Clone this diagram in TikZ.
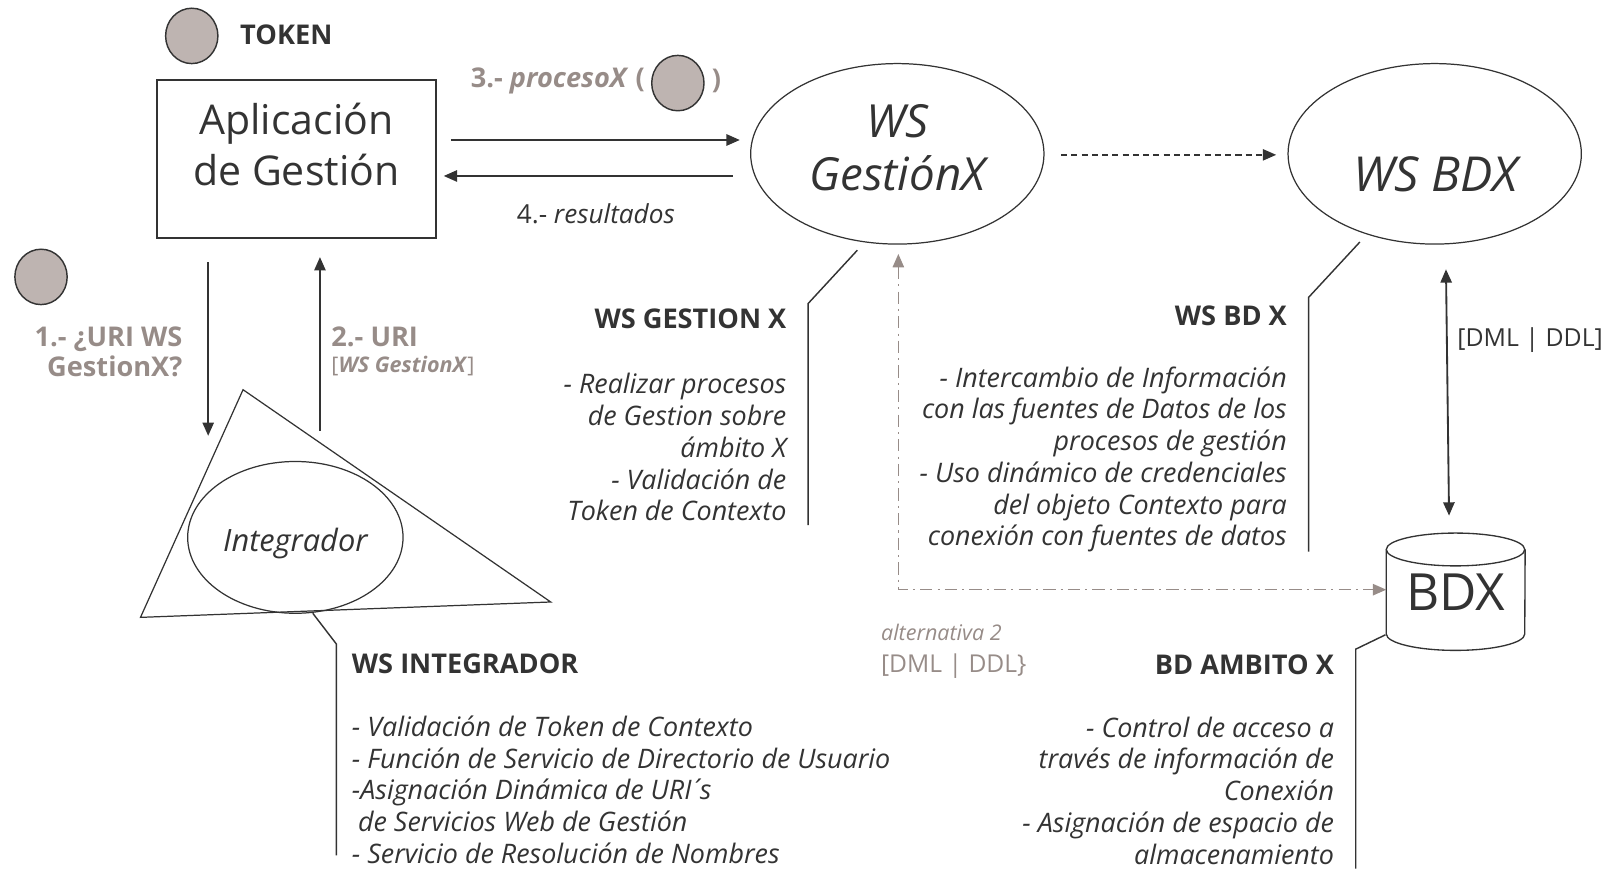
\documentclass[tikz,border=0pt]{standalone}
\usepackage{fontspec}
\setmainfont{Open Sans}
\usetikzlibrary{arrows.meta,shapes.geometric}
\definecolor{dark}{HTML}{333333}
\definecolor{taupe}{HTML}{978C88}
\definecolor{tokfill}{HTML}{BEB4B1}
\begin{document}
\begin{tikzpicture}[x=1pt,y=-1pt,
  every node/.style={inner sep=0pt, text=dark},
  tokcirc/.style={ellipse, draw=dark, fill=tokfill, line width=1.4pt, minimum width=51pt, minimum height=54pt},
  wsell/.style={ellipse, draw=dark, line width=1.2pt, minimum width=286pt, minimum height=176pt},
  arr/.style={draw=dark, line width=1.8pt, -{Triangle[length=13pt,width=11pt]}},
  darr/.style={draw=dark, line width=1.8pt, {Triangle[length=13pt,width=11pt]}-{Triangle[length=13pt,width=11pt]}},
  dasharr/.style={draw=dark, line width=1.6pt, dash pattern=on 6pt off 4pt, -{Triangle[length=13pt,width=11pt]}},
  altarr/.style={draw=taupe, line width=1.4pt, dash pattern=on 12pt off 5pt on 2pt off 5pt, {Triangle[length=13pt,width=11pt]}-{Triangle[length=13pt,width=11pt]}},
  callout/.style={draw=dark, line width=1.4pt},
  heading/.style={font=\fontsize{26.5}{31}\bfseries\selectfont},
  listtxt/.style={font=\fontsize{26.2}{31}\itshape\selectfont},
  steplbl/.style={font=\fontsize{26.5}{30}\bfseries\selectfont, text=taupe}
]
\useasboundingbox (0,0) rectangle (1568,847);

% tokens
\node[tokcirc] (tok1) at (187,35) {};
\node[heading, anchor=west] (toklbl) at (234,34) {TOKEN};
\node[tokcirc] (tok2) at (40,270) {};

% application box
\node[draw=dark, line width=1.4pt, minimum width=272pt, minimum height=154pt] (app) at (289,155) {};
\node[align=center, font=\fontsize{40}{49}\selectfont] (apptxt) at (289,141) {Aplicación\\de Gestión};

% WS GestionX
\node[wsell] (gest) at (875,150) {};
\node[font=\fontsize{44.5}{52}\itshape\selectfont, align=center] (gesttxt) at (875,144) {WS\\GestiónX};

% WS BDX
\node[wsell] (wsbd) at (1399,150) {};
\node[font=\fontsize{47}{52}\itshape\selectfont] (wsbdtxt) at (1400,170) {WS BDX};

% arrows app <-> gest
\draw[arr] ([xshift=14pt,yshift=18.5pt]app.east) -- ([xshift=-10pt,yshift=13.5pt]gest.west);
\draw[arr] ([xshift=-17pt,yshift=-21.6pt]gest.west) -- ([xshift=7pt,yshift=-16.6pt]app.east);
\node[steplbl, anchor=west] (l3) at (459,79) {3.- \textit{procesoX} (};
\node[tokcirc] (tok3) at (661,81) {};
\node[steplbl, anchor=west] (l3b) at (694,79) {)};
\node[font=\fontsize{25.5}{30}\selectfont] (l4) at (581,208) {4.- \textit{resultados}};

% dashed arrow gest -> wsbd
\draw[dasharr] ([xshift=16pt,yshift=-1pt]gest.east) -- ([xshift=-11pt,yshift=-1pt]wsbd.west);

% triangle integrador
\coordinate (t1) at (237,380);
\coordinate (t2) at (137,602);
\coordinate (t3) at (537,587);
\draw[draw=dark, line width=1.2pt, line join=miter] (t1) -- (t2) -- (t3) -- cycle;
\node[ellipse, draw=dark, line width=1.2pt, minimum width=210pt, minimum height=148pt] (integ) at (288,524) {};
\node[font=\fontsize{30}{34}\itshape\selectfont] (integtxt) at (288,530) {Integrador};

% arrows app <-> integrador
\coordinate (dnend) at (203,425);
\coordinate (upstart) at (312,420);
\draw[arr] ([xshift=-86pt,yshift=-23pt]app.south) -- (dnend);
\draw[arr] (upstart) -- ([xshift=23pt,yshift=-18pt]app.south);
\node[steplbl, anchor=east, align=right] (l1) at (178,343) {1.- ¿URI WS\\GestionX?};
\node[steplbl, anchor=west] (l2) at (323,328) {2.- URI};
\node[font=\fontsize{21}{24}\selectfont, text=taupe, anchor=west] (l2b) at (323,357) {[\textbf{\textit{WS GestionX}}]};

% WS GESTION X callout
\coordinate (cg1) at (836,244);
\coordinate (cg2) at (788,296);
\coordinate (cg3) at (788,512);
\draw[callout] (cg1) -- (cg2) -- (cg3);
\node[heading, anchor=east] (hg) at (767,311) {WS GESTION X};
\node[listtxt, anchor=east, align=right] (lg) at (767,436) {- Realizar procesos\\de Gestion sobre\\ámbito X\\- Validación de\\Token de Contexto};

% WS BD X callout
\coordinate (cb1) at (1326,236);
\coordinate (cb2) at (1276,290);
\coordinate (cb3) at (1276,538);
\draw[callout] (cb1) -- (cb2) -- (cb3);
\node[heading, anchor=east] (hb) at (1255,308) {WS BD X};
\node[listtxt, anchor=east, align=right] (lb) at (1255,448) {- Intercambio de Información\\con las fuentes de Datos de los\\procesos de gestión\\- Uso dinámico de credenciales\\del objeto Contexto para\\conexión con fuentes de datos};

% BDX cylinder
\node[minimum width=135pt, minimum height=114pt, font=\fontsize{50}{54}\selectfont] (bdx) at (1419.5,577) {BDX};
\draw[draw=dark, line width=1.3pt] ([yshift=-16pt]bdx.north west) coordinate (cyltl)
  arc[start angle=180, end angle=0, x radius=67.5pt, y radius=16pt]
  arc[start angle=0, end angle=-180, x radius=67.5pt, y radius=16pt];
\draw[draw=dark, line width=1.3pt] (cyltl) -- ([yshift=16pt]bdx.south west)
  arc[start angle=180, end angle=360, x radius=67.5pt, y radius=16pt]
  -- ([yshift=-16pt]bdx.north east);

% double arrow wsbd <-> bdx
\draw[darr] ([xshift=11pt,yshift=-24pt]wsbd.south) -- ([xshift=-6.5pt,yshift=17pt]bdx.north);
\node[font=\fontsize{24.2}{30}\selectfont, anchor=west] (dml) at (1421,332) {[DML | DDL]};

% alternativa 2 dash-dot arrow
\draw[altarr] ([xshift=1pt,yshift=-9pt]gest.south) |- ([yshift=2pt]bdx.west);
\node[font=\fontsize{24}{31}\selectfont, text=taupe, anchor=west, align=left] (alt) at (859,635) {\fontsize{21}{31}\selectfont\textit{alternativa 2}\\{}[DML | DDL\}};

% WS INTEGRADOR callout
\coordinate (ci1) at (305,598);
\coordinate (ci2) at (328,628);
\coordinate (ci3) at (328,834);
\draw[callout] (ci1) -- (ci2) -- (ci3);
\node[heading, anchor=west] (hi) at (343,647) {WS INTEGRADOR};
\node[listtxt, anchor=west, align=left] (li) at (343,770) {- Validación de Token de Contexto\\- Función de Servicio de Directorio de Usuario\\-Asignación Dinámica de URI\makebox[8pt][l]{\kern1pt´}s\\\hspace*{6pt}de Servicios Web de Gestión\\- Servicio de Resolución de Nombres};

% BD AMBITO X callout
\coordinate (ca1) at (1351,619);
\coordinate (ca2) at (1322,633);
\coordinate (ca3) at (1322,847);
\draw[callout] (ca1) -- (ca2) -- (ca3);
\node[heading, anchor=east] (ha) at (1301,648) {BD AMBITO X};
\node[listtxt, anchor=east, align=right] (la) at (1301,771) {- Control de acceso a\\través de información de\\Conexión\\- Asignación de espacio de\\almacenamiento};
\end{tikzpicture}
\end{document}
